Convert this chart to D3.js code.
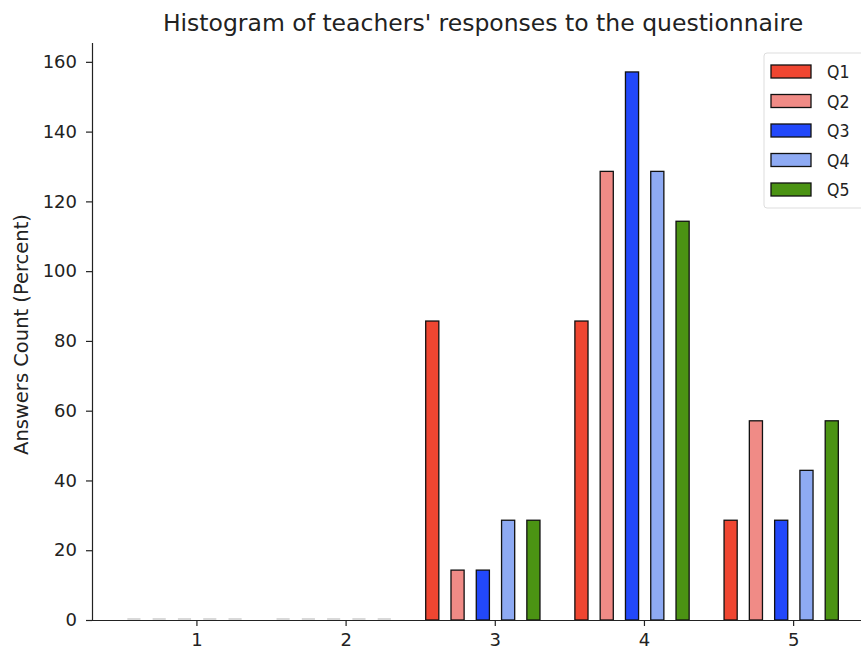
<!DOCTYPE html>
<html>
<head>
<meta charset="utf-8">
<script src="https://cdn.jsdelivr.net/npm/d3@7"></script>
<style>
  body { margin: 0; background: #fff; }
  text { font-family: "DejaVu Sans", sans-serif; fill: #222; }
</style>
</head>
<body>
<svg id="chart" width="861" height="650"></svg>
<script>
// answers per response level (1..5), one array per question
const levels = [1, 2, 3, 4, 5];
const questions = ["Q1", "Q2", "Q3", "Q4", "Q5"];
const q1 = [0, 0, 85.7, 85.7, 28.6];
const q2 = [0, 0, 14.3, 128.6, 57.1];
const q3 = [0, 0, 14.3, 157.1, 28.6];
const q4 = [0, 0, 28.6, 128.6, 42.9];
const q5 = [0, 0, 28.6, 114.3, 57.1];
const yTicks = [0, 20, 40, 60, 80, 100, 120, 140, 160];
const colors = ["#ef4631", "#f08b86", "#2248fa", "#8eaaf3", "#4b9313"];

const series = [q1, q2, q3, q4, q5];

const svg = d3.select("#chart");
const mLeft = 92, mRight = 861, mTop = 43, mBottom = 620;

const x = d3.scaleLinear().domain([0.3, 5.455]).range([mLeft, mRight]);
const y = d3.scaleLinear().domain([0, 165.4]).range([mBottom, mTop]);

// bar geometry in data units
const slot = 0.1695, barW = 0.088, groupShift = -0.08;

const cells = [];
series.forEach((vals, i) => {
  vals.forEach((v, j) => cells.push({ q: i, level: levels[j], value: v }));
});
const cx = d => x(d.level + groupShift + (d.q - 2) * slot);
const halfW = (x(barW) - x(0)) / 2;

// zero-height bars show only as faint edges on the baseline
svg.append("g").selectAll("line")
  .data(cells.filter(d => d.value === 0))
  .enter().append("line")
  .attr("x1", d => cx(d) - halfW)
  .attr("x2", d => cx(d) + halfW)
  .attr("y1", mBottom - 1).attr("y2", mBottom - 1)
  .attr("stroke", "#ccc").attr("stroke-width", 1.5);

svg.append("g").selectAll("rect")
  .data(cells.filter(d => d.value > 0))
  .enter().append("rect")
  .attr("x", d => cx(d) - halfW)
  .attr("width", halfW * 2)
  .attr("y", d => y(d.value))
  .attr("height", d => mBottom - y(d.value))
  .attr("fill", d => colors[d.q])
  .attr("stroke", "#111").attr("stroke-width", 1.3);

// axes
const xAxis = svg.append("g").attr("transform", `translate(0,${mBottom})`)
  .call(d3.axisBottom(x).tickValues(levels).tickSize(6).tickPadding(7).tickFormat(d3.format("d")));
const yAxis = svg.append("g").attr("transform", `translate(${mLeft},0)`)
  .call(d3.axisLeft(y).tickValues(yTicks).tickSize(6).tickPadding(9));
[xAxis, yAxis].forEach(g => {
  g.selectAll("text").style("font-size", "18px").attr("fill", "#222");
  g.selectAll("line, path").attr("stroke", "#222").attr("stroke-width", 1.2);
});
xAxis.select(".domain").attr("d", `M${mLeft},0.5H${mRight}`);
yAxis.select(".domain").attr("d", `M0.5,${mTop}V${mBottom}`);

svg.append("text")
  .attr("transform", `translate(28,${(mTop + mBottom) / 2 + 3}) rotate(-90)`)
  .attr("text-anchor", "middle")
  .style("font-size", "19.5px")
  .text("Answers Count (Percent)");

svg.append("text")
  .attr("x", 483).attr("y", 31)
  .attr("text-anchor", "middle")
  .style("font-size", "23.5px")
  .text("Histogram of teachers' responses to the questionnaire");

// legend
const legend = svg.append("g").attr("transform", "translate(764,53)");
legend.append("rect")
  .attr("width", 110).attr("height", 155).attr("rx", 3)
  .attr("fill", "#fff").attr("stroke", "#ddd");
const item = legend.selectAll("g.item").data(questions)
  .enter().append("g").attr("class", "item")
  .attr("transform", (d, i) => `translate(0,${18 + i * 29.5})`);
item.append("rect")
  .attr("x", 7).attr("y", -6).attr("width", 40).attr("height", 13)
  .attr("fill", (d, i) => colors[i])
  .attr("stroke", "#111").attr("stroke-width", 1.3);
item.append("text")
  .attr("x", 63).attr("y", 7)
  .style("font-family", "'Liberation Sans Narrow', 'DejaVu Sans Condensed', sans-serif")
  .style("font-size", "17.5px")
  .text(d => d);
</script>
</body>
</html>
